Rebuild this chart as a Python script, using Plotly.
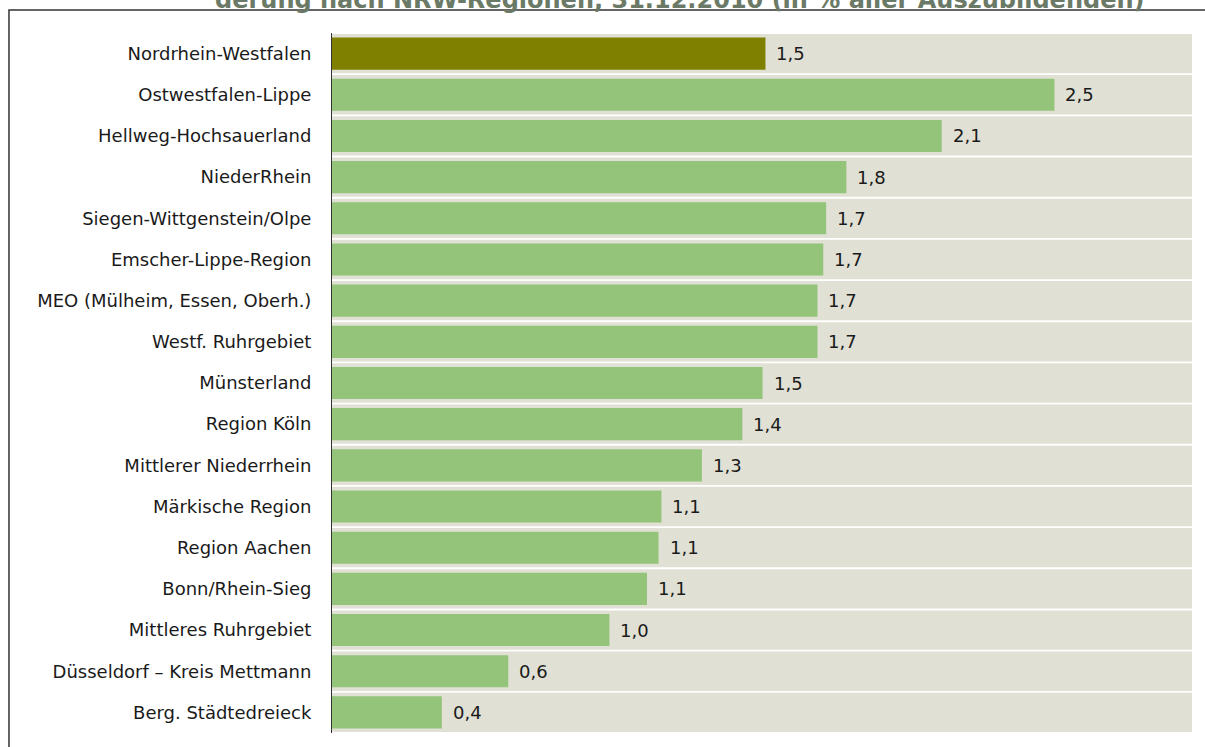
import plotly.graph_objects as go

regions = [
    "Nordrhein-Westfalen",
    "Ostwestfalen-Lippe",
    "Hellweg-Hochsauerland",
    "NiederRhein",
    "Siegen-Wittgenstein/Olpe",
    "Emscher-Lippe-Region",
    "MEO (Mülheim, Essen, Oberh.)",
    "Westf. Ruhrgebiet",
    "Münsterland",
    "Region Köln",
    "Mittlerer Niederrhein",
    "Märkische Region",
    "Region Aachen",
    "Bonn/Rhein-Sieg",
    "Mittleres Ruhrgebiet",
    "Düsseldorf – Kreis Mettmann",
    "Berg. Städtedreieck",
]
values = [1.50, 2.50, 2.11, 1.78, 1.71, 1.70, 1.68, 1.68, 1.49, 1.42,
          1.28, 1.14, 1.13, 1.09, 0.96, 0.61, 0.38]
title_text = "derung nach NRW-Regionen, 31.12.2010 (in % aller Auszubildenden)"

x_max = 2.976
font_family = "DejaVu Sans"
labels = [f"{v:.1f}".replace(".", ",") for v in values]
colors = ["#808000"] + ["#93c47a"] * (len(values) - 1)

fig = go.Figure()
fig.add_trace(go.Bar(
    y=regions, x=[x_max] * len(regions), orientation="h",
    marker=dict(color="#e0e0d4", line=dict(width=0)),
    width=0.955, hoverinfo="skip", showlegend=False,
))
fig.add_trace(go.Bar(
    y=regions, x=values, orientation="h",
    marker=dict(color=colors, line=dict(width=0)),
    width=0.78, showlegend=False,
))

annotations = []
for r, v, t in zip(regions, values, labels):
    annotations.append(dict(
        x=v, y=r, xref="x", yref="y", text=t, showarrow=False,
        xanchor="left", yanchor="middle", xshift=9,
        font=dict(family=font_family, size=18, color="#1a1a1a"),
    ))
annotations.append(dict(
    x=0.4035, y=1.024, xref="paper", yref="paper", text=f"<b>{title_text}</b>",
    showarrow=False, xanchor="center", yanchor="bottom",
    font=dict(family=font_family, size=24, color="#6b7a66"),
))

fig.update_layout(
    width=1205, height=747,
    margin=dict(l=332, r=13, t=33, b=14),
    paper_bgcolor="white", plot_bgcolor="white",
    barmode="overlay",
    annotations=annotations,
    shapes=[dict(
        type="rect", xref="paper", yref="paper",
        x0=-0.3756, x1=1.2, y0=-0.2, y1=1.0329,
        line=dict(color="#333333", width=1.5), layer="above",
    )],
    xaxis=dict(range=[0, x_max], visible=False, showgrid=False, zeroline=False),
    yaxis=dict(
        autorange="reversed", showgrid=False, zeroline=False,
        showline=True, linecolor="#333333", linewidth=1,
        ticks="outside", ticklen=16, tickcolor="rgba(0,0,0,0)",
        tickfont=dict(family=font_family, size=18, color="#1a1a1a"),
    ),
    font=dict(family=font_family),
)

fig.write_html(
    "out.html",
    config={"displayModeBar": False},
    post_script="document.body.style.margin='0';document.body.style.overflow='hidden';",
)
